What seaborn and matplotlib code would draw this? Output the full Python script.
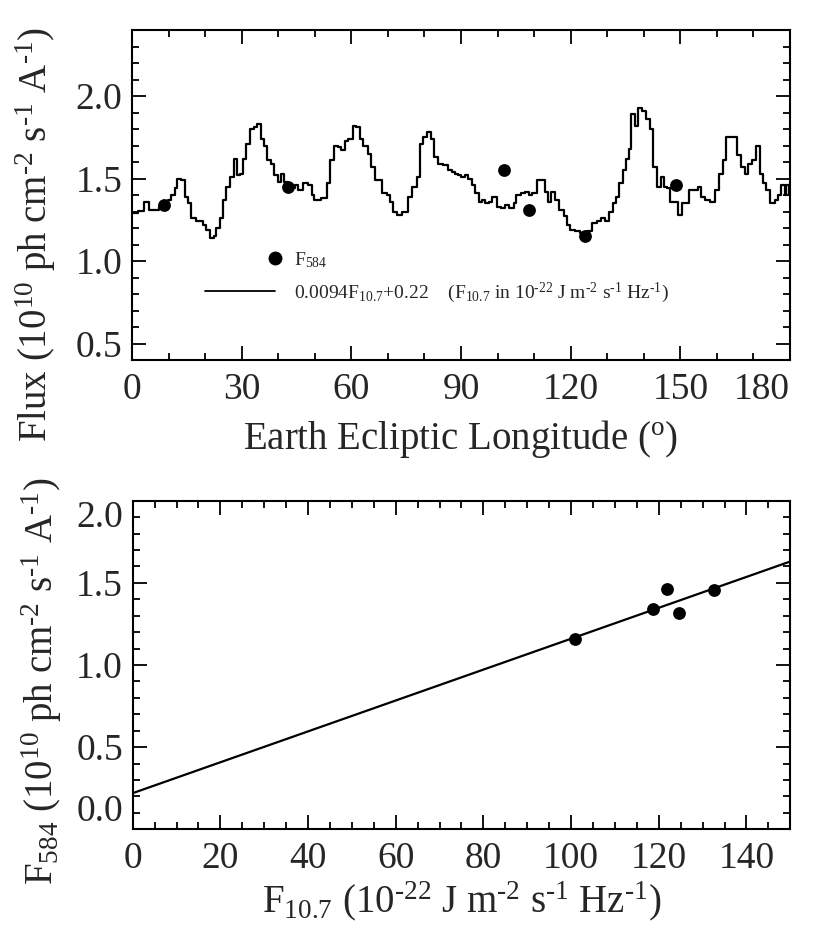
import numpy as np
import pandas as pd
import matplotlib
matplotlib.use('Agg')  # no display
import matplotlib.pyplot as plt
from matplotlib.lines import Line2D
from matplotlib.legend_handler import HandlerLine2D
from matplotlib.ticker import MultipleLocator, FormatStrFormatter
import seaborn as sns

# --- top panel: step curve (start longitude of each step, flux value) ---
lon_steps = [0, 1.6, 3.3, 4.6, 7.3, 9.8, 10.8, 11.7, 12.4, 13.5, 14.4, 15.3, 16.0, 17.6,
             19.4, 20.3, 21.2, 22.4, 23.1, 24.0, 24.9, 25.8, 26.7, 27.9, 28.7, 29.6, 30.4,
             31.3, 32.2, 33.4, 34.3, 35.2, 36.1, 37.0, 37.9, 38.8, 39.8, 40.8, 41.7, 42.7,
             44.6, 45.3, 46.9, 48.2, 49.1, 49.9, 51.7, 53.2, 54.2, 55.2, 56.4, 57.3, 58.3,
             59.0, 60.5, 61.4, 62.4, 63.3, 64.5, 65.4, 66.5, 68.3, 69.7, 70.6, 71.5, 72.4,
             73.8, 75.6, 76.5, 77.9, 78.8, 79.7, 80.6, 81.8, 82.7, 83.8, 85.2, 86.5, 87.5,
             88.4, 89.3, 90.0, 91.2, 91.9, 93.0, 93.9, 94.8, 95.7, 96.6, 97.6, 98.6, 99.8,
             101.0, 102.1, 103.0, 104.4, 105.0, 106.5, 107.4, 108.5, 109.4, 110.8, 113.0,
             113.9, 114.7, 115.8, 116.9, 118.1, 119.0, 119.9, 121.3, 122.6, 124.5, 125.8,
             127.2, 128.4, 129.5, 130.4, 131.7, 132.4, 133.3, 134.2, 135.1, 136.0, 136.4, 137.5,
             138.4, 139.5, 140.7, 141.6, 142.5, 143.7, 144.6, 145.5, 146.4, 147.1, 149.3,
             150.4, 152.3, 154.8, 155.6, 156.6, 158.0, 159.6, 160.5, 161.6, 162.6, 165.6,
             166.7, 167.6, 168.5, 169.6, 170.8, 171.7, 172.6, 173.5, 174.4, 175.8,
             176.7, 177.6, 178.5, 179.0, 179.6, 180.0]
flux_steps = [1.29, 1.305, 1.36, 1.31, 1.33, 1.37, 1.40, 1.44, 1.50, 1.49, 1.39, 1.35, 1.26, 1.24,
              1.22, 1.19, 1.14, 1.15, 1.20, 1.26, 1.37, 1.45, 1.51, 1.62, 1.52, 1.53, 1.62,
              1.71, 1.80, 1.81, 1.83, 1.74, 1.70, 1.61, 1.59, 1.52, 1.48, 1.53, 1.48, 1.44,
              1.46, 1.43, 1.47, 1.46, 1.40, 1.37, 1.38, 1.47, 1.61, 1.70, 1.69, 1.67, 1.73,
              1.74, 1.82, 1.81, 1.74, 1.70, 1.65, 1.57, 1.49, 1.41, 1.40, 1.36, 1.30, 1.28,
              1.30, 1.39, 1.45, 1.51, 1.71, 1.75, 1.78, 1.74, 1.63, 1.59, 1.58, 1.55, 1.54,
              1.53, 1.52, 1.51, 1.52, 1.50, 1.46, 1.41, 1.36, 1.37, 1.35, 1.36, 1.39, 1.33,
              1.32, 1.34, 1.32, 1.35, 1.40, 1.41, 1.42, 1.40, 1.41, 1.49, 1.42,
              1.36, 1.42, 1.37, 1.31, 1.27, 1.22, 1.19, 1.18, 1.17, 1.18, 1.23,
              1.24, 1.26, 1.24, 1.30, 1.35, 1.39, 1.47, 1.55, 1.62, 1.68, 1.89, 1.82,
              1.93, 1.91, 1.86, 1.80, 1.57, 1.45, 1.51, 1.45, 1.44, 1.36, 1.28,
              1.35, 1.43, 1.45, 1.39, 1.37, 1.36, 1.43, 1.53, 1.61, 1.75, 1.64,
              1.57, 1.53, 1.59, 1.61, 1.70, 1.53, 1.47, 1.43, 1.35, 1.37,
              1.40, 1.46, 1.40, 1.46, 1.40, 1.40]

# measured F584 points on the top panel
f584_lon = [8.8, 42.7, 101.8, 108.7, 123.8, 148.9]
f584_flux = [1.34, 1.45, 1.55, 1.31, 1.15, 1.46]

# --- bottom panel ---
f107_pts = [101.0, 118.7, 121.9, 124.7, 132.5]
f584_pts = [1.156, 1.343, 1.465, 1.315, 1.455]
fit_slope = 0.0094
fit_icpt = 0.22
fit_range = [0, 150]

sns.set_style('ticks')
plt.rcParams['font.family'] = ['Liberation Serif', 'DejaVu Serif']
plt.rcParams['mathtext.fontset'] = 'custom'
plt.rcParams['mathtext.rm'] = 'Liberation Serif'
plt.rcParams['mathtext.it'] = 'Liberation Serif:italic'
plt.rcParams['mathtext.bf'] = 'Liberation Serif:bold'

HY = '\u2010'  # short hyphen for the exponents (mathtext turns '-' into a wide minus)
TICK_FS = 27
LAB_FS = 28

fig = plt.figure(figsize=(8.21, 9.39), dpi=100)
ax1 = fig.add_axes([0.1608, 0.6166, 0.8015, 0.3514])
ax2 = fig.add_axes([0.1616, 0.1168, 0.801, 0.35])

def style_axis(ax):
    for sp in ax.spines.values():
        sp.set_linewidth(1.5)
        sp.set_color('black')
    ax.tick_params(which='both', direction='in', top=True, right=True,
                   width=1.3, color='black', labelsize=TICK_FS)
    ax.tick_params(which='major', length=10)
    ax.tick_params(which='minor', length=5)
    ax.tick_params(axis='x', pad=9)
    ax.tick_params(axis='y', pad=7)


class RightDotHandler(HandlerLine2D):
    # put the legend dot at the right end of the handle, like the original
    def create_artists(self, *args, **kwargs):
        arts = super().create_artists(*args, **kwargs)
        for a in arts:
            a.set_markevery([2])
        return arts


# top panel
steps = pd.DataFrame({'lon': lon_steps, 'flux': flux_steps})
sns.lineplot(data=steps, x='lon', y='flux', ax=ax1, color='black', linewidth=1.6,
             drawstyle='steps-post', estimator=None, sort=False)
sns.scatterplot(x=f584_lon, y=f584_flux, ax=ax1, color='black', s=85,
                edgecolor='black', linewidth=0, zorder=3)
ax1.set_xlim(0, 180)
ax1.set_ylim(0.4, 2.4)
ax1.xaxis.set_major_locator(MultipleLocator(30))
ax1.xaxis.set_minor_locator(MultipleLocator(10))
ax1.yaxis.set_major_locator(MultipleLocator(0.5))
ax1.yaxis.set_minor_locator(MultipleLocator(0.1))
ax1.yaxis.set_major_formatter(FormatStrFormatter('%.1f'))
style_axis(ax1)
ax1.set_xlabel('Earth Ecliptic Longitude ($^{\\rm o}$)', fontsize=LAB_FS, labelpad=8)
ax1.set_ylabel(f'Flux (10$^{{10}}$ ph cm$^{{{HY}2}}$ s$^{{{HY}1}}$ A$^{{{HY}1}}$)', fontsize=LAB_FS)
ax1.yaxis.set_label_coords(-0.112, 0.38)

dot_handle = Line2D([], [], color='black', marker='o', linestyle='none', markersize=9)
line_handle = Line2D([], [], color='black', linewidth=1.3)
ax1.legend([dot_handle, line_handle],
           ['F$_{584}$',
            f'0.0094F$_{{10.7}}$+0.22    (F$_{{10.7}}$ in 10$^{{{HY}22}}$ J m$^{{{HY}2}}$ s$^{{{HY}1}}$ Hz$^{{{HY}1}}$)'],
           handler_map={dot_handle: RightDotHandler()},
           loc='center left', bbox_to_anchor=(0.084, 0.25), frameon=False,
           fontsize=14, handlelength=3.6, handletextpad=1.0, labelspacing=0.55)

# bottom panel
fit_x = np.array(fit_range, dtype=float)
fit_df = pd.DataFrame({'f107': fit_x, 'f584': fit_slope * fit_x + fit_icpt})
sns.lineplot(data=fit_df, x='f107', y='f584', ax=ax2, color='black', linewidth=1.6)
sns.scatterplot(x=f107_pts, y=f584_pts, ax=ax2, color='black', s=85,
                edgecolor='black', linewidth=0, zorder=3)
ax2.set_xlim(0, 150)
ax2.set_ylim(0, 2.0)
ax2.xaxis.set_major_locator(MultipleLocator(20))
ax2.xaxis.set_minor_locator(MultipleLocator(5))
ax2.yaxis.set_major_locator(MultipleLocator(0.5))
ax2.yaxis.set_minor_locator(MultipleLocator(0.1))
ax2.yaxis.set_major_formatter(FormatStrFormatter('%.1f'))
style_axis(ax2)
ax2.set_xlabel(f'F$_{{10.7}}$ (10$^{{{HY}22}}$ J m$^{{{HY}2}}$ s$^{{{HY}1}}$ Hz$^{{{HY}1}}$)',
               fontsize=LAB_FS, labelpad=2)
ax2.set_ylabel(f'F$_{{584}}$ (10$^{{10}}$ ph cm$^{{{HY}2}}$ s$^{{{HY}1}}$ A$^{{{HY}1}}$)', fontsize=LAB_FS)
ax2.yaxis.set_label_coords(-0.105, 0.45)

# end labels sit inside the frame, as in the original
fig.canvas.draw()
for lbl in ax1.get_xticklabels():
    if lbl.get_text() == '180':
        lbl.set_horizontalalignment('right')
for lbl in ax2.get_yticklabels():
    if lbl.get_text() == '0.0':
        lbl.set_verticalalignment('bottom')
    elif lbl.get_text() == '2.0':
        lbl.set_verticalalignment('top')

fig.savefig('out.png', dpi=100)
